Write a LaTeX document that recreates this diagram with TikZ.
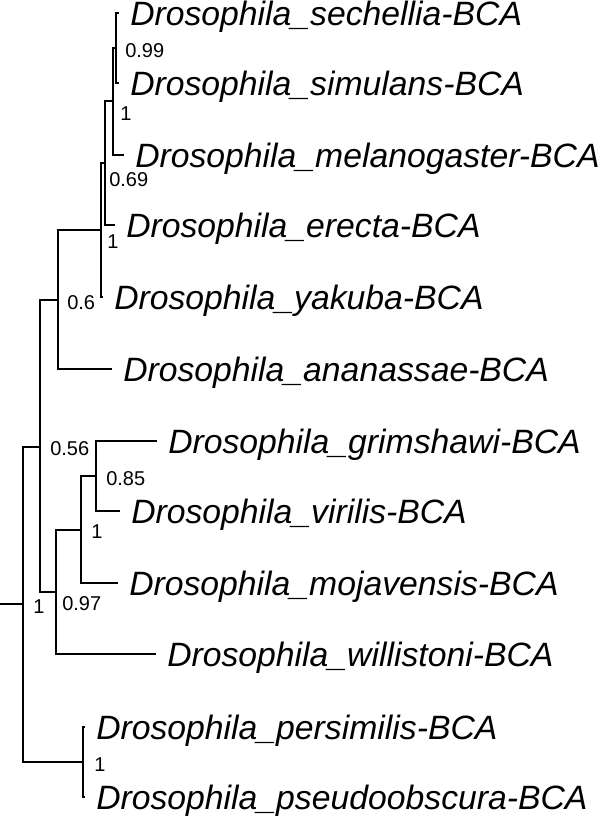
\documentclass[tikz,border=0pt]{standalone}
\usepackage{fontspec}
\setmainfont{Liberation Sans}
\usepackage{tikz}

\tikzset{
  branch/.style={line width=1.1pt},
  taxon/.style={anchor=west, inner ysep=0pt, inner xsep=8.25pt, text height=18.1pt, text depth=0pt,
    font=\fontsize{25.3}{30}\selectfont\itshape},
  support/.style={anchor=west, inner sep=0pt, text height=10.7pt, text depth=0pt,
    font=\fontsize{15}{18}\selectfont}
}

\begin{document}
\begin{tikzpicture}[x=0.75pt,y=0.75pt,yscale=-1,xscale=1]
	\useasboundingbox (0,0) rectangle (600,816);
	
	% Taxa
	\node [taxon] (sech) at (119,13) {Drosophila\_sechellia-BCA};
	\node [taxon] (sim) at (119,83) {Drosophila\_simulans-BCA};
	\node [taxon] (mel) at (124,155) {Drosophila\_melanogaster-BCA};
	\node [taxon] (ere) at (115,225) {Drosophila\_erecta-BCA};
	\node [taxon] (yak) at (103,297) {Drosophila\_yakuba-BCA};
	\node [taxon] (ana) at (112,369) {Drosophila\_ananassae-BCA};
	\node [taxon] (gri) at (157,441) {Drosophila\_grimshawi-BCA};
	\node [taxon] (vir) at (120,511) {Drosophila\_virilis-BCA};
	\node [taxon] (moj) at (118,583) {Drosophila\_mojavensis-BCA};
	\node [taxon] (wil) at (156,654) {Drosophila\_willistoni-BCA};
	\node [taxon] (per) at (85,727) {Drosophila\_persimilis-BCA};
	\node [taxon] (pse) at (85,797) {Drosophila\_pseudoobscura-BCA};
	
	% Internal nodes
	\coordinate (stem) at (0,604);
	\coordinate (root) at (23,604);
	\coordinate (cA) at (40,447);
	\coordinate (cB) at (58,300);
	\coordinate (cC) at (101,230);
	\coordinate (cD) at (105,163);
	\coordinate (cE) at (113,101);
	\coordinate (cF) at (116,48);
	\coordinate (cG) at (56,592);
	\coordinate (cH) at (81,530);
	\coordinate (cI) at (96,476);
	\coordinate (cJ) at (83,762);
	
	% Branches
	\draw [branch] (stem) -- (root);
	\draw [branch] (root) |- (cA);
	\draw [branch] (root) |- (cJ);
	\draw [branch] (cA) |- (cB);
	\draw [branch] (cA) |- (cG);
	\draw [branch] (cB) |- (cC);
	\draw [branch] (cB) |- (ana.west);
	\draw [branch] (cC) |- (cD);
	\draw [branch] (cC) |- (yak.west);
	\draw [branch] (cD) |- (cE);
	\draw [branch] (cD) |- (ere.west);
	\draw [branch] (cE) |- (cF);
	\draw [branch] (cE) |- (mel.west);
	\draw [branch] (cF) |- (sech.west);
	\draw [branch] (cF) |- (sim.west);
	\draw [branch] (cG) |- (cH);
	\draw [branch] (cG) |- (wil.west);
	\draw [branch] (cH) |- (cI);
	\draw [branch] (cH) |- (moj.west);
	\draw [branch] (cI) |- (gri.west);
	\draw [branch] (cI) |- (vir.west);
	\draw [branch] (cJ) |- (per.west);
	\draw [branch] (cJ) |- (pse.west);
	
	% Support values
	\node [support] (sF) at (125,50) {0.99};
	\node [support] (sE) at (120,113) {1};
	\node [support] (sD) at (109,179) {0.69};
	\node [support] (sC) at (107,241) {1};
	\node [support] (sB) at (67,302) {0.6};
	\node [support] (sA) at (50,448) {0.56};
	\node [support] (sI) at (106,478) {0.85};
	\node [support] (sH) at (91,531) {1};
	\node [support] (sG) at (62,603) {0.97};
	\node [support] (sR) at (33,606) {1};
	\node [support] (sJ) at (94,764) {1};
	
\end{tikzpicture}
\end{document}
